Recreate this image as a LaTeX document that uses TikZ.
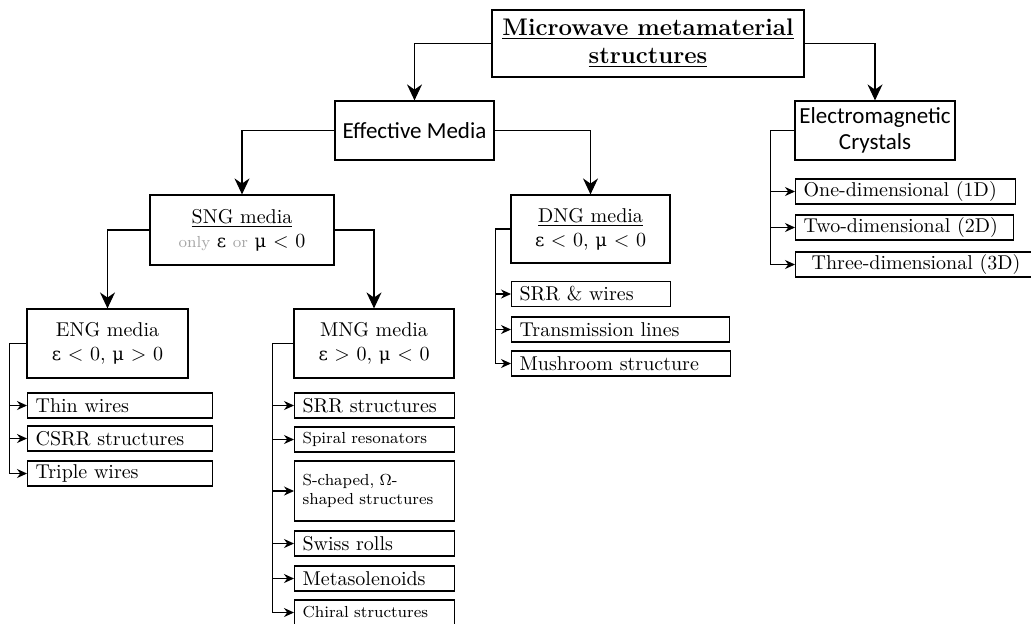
\documentclass[tikz,border=0pt]{standalone}
\usepackage{fontspec}
\usepackage{tikz}
\usetikzlibrary{arrows.meta}
\newfontfamily\calibri{Carlito}
\newfontfamily\grk{DejaVu Serif}[Scale=0.9]
\newcommand\geps{{\grk ε}}
\newcommand\gmu{{\grk μ}}

\begin{document}
\begin{tikzpicture}[x=0.5pt,y=-0.5pt,line width=0.6pt,
                    >={Stealth[length=8pt,width=7.5pt]}]

  \tikzstyle{box}=[draw,rectangle,align=center,inner sep=0pt]
  \tikzstyle{leaf}=[draw,rectangle,anchor=west,align=left,inner xsep=4pt,
                    inner ysep=0pt,minimum height=12.5pt]
  \tikzstyle{tip}=[-{Stealth[length=5pt,width=4.5pt]}]

  \useasboundingbox (0,0) rectangle (1031,623);

  % main boxes
  \node[box,minimum width=156pt,minimum height=33.5pt,
        font=\fontsize{12}{14}\selectfont\bfseries] (MMS) at (648,43.5)
    {\underline{Microwave metamaterial}\\ \underline{structures}};
  \node[box,minimum width=79.5pt,minimum height=29.5pt,
        font=\calibri\fontsize{11.5}{13.5}\selectfont] (EFF) at (414.5,130.5)
    {Effective Media};
  \node[box,minimum width=80pt,minimum height=29.5pt,
        font=\calibri\fontsize{11.5}{13}\selectfont] (EMC) at (875,130.5)
    {Electromagnetic\\ Crystals};
  \node[box,minimum width=92pt,minimum height=35pt] (SNG) at (242,230)
    {\underline{SNG media}\\ {\footnotesize\color{gray!70}only} \geps{} {\footnotesize\color{gray!70}or} \gmu{} < 0};
  \node[box,minimum width=79.5pt,minimum height=34pt] (DNG) at (590.5,229)
    {\underline{DNG media}\\ \geps{} < 0, \gmu{} < 0};
  \node[box,minimum width=80.5pt,minimum height=34.5pt] (ENG) at (107.5,343.5)
    {ENG media\\ \geps{} < 0, \gmu{} > 0};
  \node[box,minimum width=80pt,minimum height=34.5pt] (MNG) at (374,343.5)
    {MNG media\\ \geps{} > 0, \gmu{} < 0};

  % leaves
  \node[leaf,text width=84.5pt] (THW) at (27,405.5) {Thin wires};
  \node[leaf,text width=84.5pt] (CSR) at (27,438.5) {CSRR structures};
  \node[leaf,text width=84.5pt] (TRW) at (27,473.5) {Triple wires};

  \node[leaf,text width=72pt] (SRR) at (294,405.5) {SRR structures};
  \node[leaf,text width=72pt,font=\footnotesize] (SPI) at (294,439.5) {Spiral resonators};
  \node[leaf,text width=72pt,minimum height=30pt,font=\footnotesize] (SHP) at (294,491)
    {S-chaped, $\Omega$-\\ shaped structures};
  \node[leaf,text width=72pt] (SWR) at (294,543.5) {Swiss rolls};
  \node[leaf,text width=72pt] (MSL) at (294,578.5) {Metasolenoids};
  \node[leaf,text width=72pt,font=\footnotesize] (CHI) at (294,612.5) {Chiral structures};

  \node[leaf,text width=71.5pt] (SRW) at (511,294) {SRR \& wires};
  \node[leaf,text width=101pt] (TRL) at (511,329.5) {Transmission lines};
  \node[leaf,text width=101.5pt] (MSH) at (511,363.5) {Mushroom structure};

  \node[leaf,text width=102pt] (ONE) at (795,191.5) {One-dimensional (1D)};
  \node[leaf,text width=101pt] (TWO) at (795,227.5) {Two-dimensional (2D)};
  \node[leaf,text width=110pt] (THR) at (795,264.5) {\hspace{4pt}Three-dimensional (3D)};

  % tree arrows
  \draw[->] (MMS.west) -| (EFF.north);
  \draw[->] (MMS.east) -| (EMC.north);
  \draw[->] (EFF.west) -| (SNG.north);
  \draw[->] (EFF.east) -| (DNG.north);
  \draw[->] (SNG.west) -| (ENG.north);
  \draw[->] (SNG.east) -| (MNG.north);

  % list arrows
  \foreach \l in {THW,CSR,TRW}
    \draw[tip] (ENG.west) -- ++(-17,0) |- (\l.west);
  \foreach \l in {SRR,SPI,SHP,SWR,MSL,CHI}
    \draw[tip] (MNG.west) -- ++(-21,0) |- (\l.west);
  \foreach \l in {SRW,TRL,MSH}
    \draw[tip] (DNG.west) -- ++(-15,0) |- (\l.west);
  \foreach \l in {ONE,TWO,THR}
    \draw[tip] (EMC.west) -- ++(-24,0) |- (\l.west);
\end{tikzpicture}
\end{document}
